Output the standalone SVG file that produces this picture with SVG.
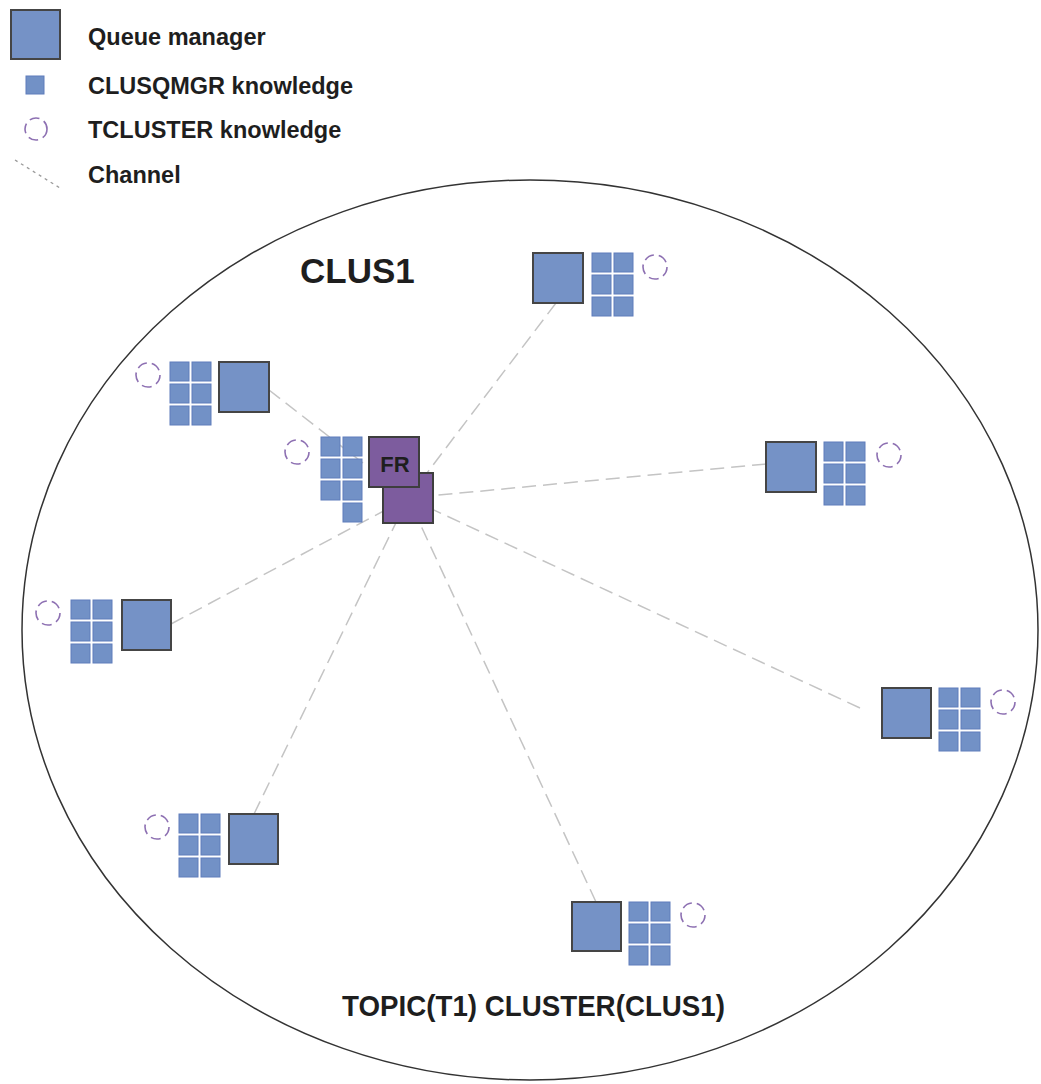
<svg xmlns="http://www.w3.org/2000/svg" xmlns:xlink="http://www.w3.org/1999/xlink" width="1041" height="1084" viewBox="0 0 1041 1084">
<style>
text{font-family:"Liberation Sans",Arial,sans-serif;font-weight:bold;fill:#1e1e1e}
.qm{fill:#7592c6;stroke:#454545;stroke-width:2}
.fr{fill:#7d5c9e;stroke:#3e3e3e;stroke-width:2}
.k{fill:#7291c6;stroke:#5f7dbb;stroke-width:1}
.tc{fill:none;stroke:#8d70b2;stroke-width:1.6;stroke-dasharray:10 5}
.ch{stroke:#c4c4c4;stroke-width:1.5;stroke-dasharray:14 7;fill:none}
.leg{font-size:23.5px}
</style>
<defs>
<g id="grid">
<rect class="k" x="0" y="0" width="19" height="19"/>
<rect class="k" x="22" y="0" width="19" height="19"/>
<rect class="k" x="0" y="22" width="19" height="19"/>
<rect class="k" x="22" y="22" width="19" height="19"/>
<rect class="k" x="0" y="44" width="19" height="19"/>
<rect class="k" x="22" y="44" width="19" height="19"/>
</g>
</defs>
<rect width="1041" height="1084" fill="#fff"/>

<g id="legend">
<rect class="qm" x="11" y="10" width="49" height="49"/>
<text class="leg" x="88" y="45">Queue manager</text>
<rect class="k" x="26" y="76" width="18" height="18"/>
<text class="leg" x="88" y="94">CLUSQMGR knowledge</text>
<circle class="tc" cx="36" cy="129" r="11"/>
<text class="leg" x="88" y="138">TCLUSTER knowledge</text>
<line x1="15" y1="160" x2="60" y2="188" stroke="#999" stroke-width="1.3" stroke-dasharray="3 4"/>
<text class="leg" x="88" y="183">Channel</text>
</g>

<g id="cluster">
<ellipse cx="530" cy="630" rx="508" ry="450" fill="none" stroke="#333" stroke-width="1.5"/>
<text x="300" y="283" font-size="35">CLUS1</text>
<text x="342" y="1016" font-size="30" textLength="383" lengthAdjust="spacingAndGlyphs">TOPIC(T1) CLUSTER(CLUS1)</text>
</g>

<g id="connectors">
<line class="ch" x1="556" y1="303" x2="408" y2="498"/>
<line class="ch" x1="766" y1="464" x2="408" y2="498"/>
<line class="ch" x1="860" y1="708" x2="408" y2="498"/>
<line class="ch" x1="596" y1="902" x2="408" y2="498"/>
<line class="ch" x1="254" y1="814" x2="408" y2="498"/>
<line class="ch" x1="171" y1="624" x2="408" y2="498"/>
<line class="ch" x1="269" y1="390" x2="408" y2="498"/>
</g>

<g id="qm-top">
<rect class="qm" x="533" y="253" width="50" height="50"/>
<use xlink:href="#grid" x="592" y="253"/>
<circle class="tc" cx="655" cy="267" r="12"/>
</g>
<g id="qm-upper-left">
<rect class="qm" x="219" y="362" width="50" height="50"/>
<use xlink:href="#grid" x="170" y="362"/>
<circle class="tc" cx="148" cy="375" r="12"/>
</g>
<g id="qm-right">
<rect class="qm" x="766" y="442" width="50" height="50"/>
<use xlink:href="#grid" x="824" y="442"/>
<circle class="tc" cx="889" cy="455" r="12"/>
</g>
<g id="qm-left">
<rect class="qm" x="122" y="600" width="49" height="50"/>
<use xlink:href="#grid" x="71" y="600"/>
<circle class="tc" cx="48" cy="613" r="12"/>
</g>
<g id="qm-bottom-left">
<rect class="qm" x="229" y="814" width="49" height="50"/>
<use xlink:href="#grid" x="179" y="814"/>
<circle class="tc" cx="157" cy="827" r="12"/>
</g>
<g id="qm-bottom">
<rect class="qm" x="572" y="902" width="49" height="49"/>
<use xlink:href="#grid" x="629" y="902"/>
<circle class="tc" cx="693" cy="915" r="12"/>
</g>
<g id="qm-lower-right">
<rect class="qm" x="882" y="688" width="49" height="50"/>
<use xlink:href="#grid" x="939" y="688"/>
<circle class="tc" cx="1003" cy="702" r="12"/>
</g>
<g id="qm-center">
<circle class="tc" cx="297" cy="452" r="12"/>
<use xlink:href="#grid" x="321" y="437"/>
<rect class="k" x="343" y="503" width="19" height="19"/>
<rect class="fr" x="383" y="473" width="50" height="50"/>
<rect class="fr" x="369" y="437" width="50" height="50"/>
<text x="395" y="472" font-size="22" text-anchor="middle">FR</text>
</g>
</svg>
